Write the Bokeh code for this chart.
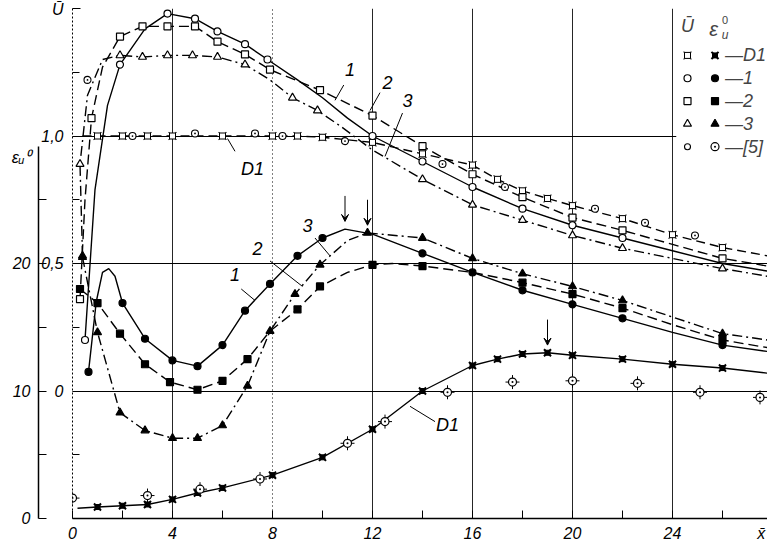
from bokeh.plotting import figure
from bokeh.models import Range1d, LinearAxis, FixedTicker, Grid, Label, Arrow, VeeHead
from bokeh.embed import file_html
from bokeh.resources import INLINE

FONT = "Liberation Sans"

# ---------------- data: mean velocity U (inner left scale) ----------------
ud1_line_x = [0.4, 1, 2, 3, 4, 6, 8, 9, 10, 12, 14, 16, 17, 18, 19, 20, 22, 24, 26, 27.8]
ud1_line_y = [1.0, 1.0, 1.0, 1.0, 1.0, 1.0, 1.0, 1.0, 0.995, 0.975, 0.93, 0.886, 0.83, 0.785, 0.755, 0.727, 0.676, 0.613, 0.5625, 0.53]
ud1_x = [1, 2, 3, 4, 6, 8, 9, 10, 12, 14, 16, 17, 18, 19, 20, 22, 24, 26]
ud1_y = [1.0, 1.0, 1.0, 1.0, 1.0, 1.0, 1.0, 0.995, 0.975, 0.93, 0.886, 0.83, 0.785, 0.755, 0.727, 0.676, 0.613, 0.5625]

u1_line_x = [0.5, 0.9, 1.4, 1.9, 2.9, 3.8, 4.9, 5.8, 6.9, 7.8, 9.0, 10.0, 11.0, 12.0, 14.0, 16.0, 18.0, 20.0, 22.0, 24.0, 26.0, 27.8]
u1_line_y = [0.20, 0.79, 1.12, 1.28, 1.42, 1.48, 1.46, 1.41, 1.36, 1.30, 1.22, 1.15, 1.07, 1.00, 0.90, 0.80, 0.715, 0.65, 0.60, 0.55, 0.50, 0.47]
u1_x = [0.5, 1.9, 3.8, 4.9, 5.8, 6.9, 7.8, 12.0, 14.0, 16.0, 18.0, 20.0, 22.0]
u1_y = [0.20, 1.28, 1.48, 1.46, 1.41, 1.36, 1.30, 1.00, 0.90, 0.80, 0.715, 0.65, 0.60]

u2_line_x = [0.3, 0.5, 0.76, 1.2, 1.9, 2.8, 3.8, 4.9, 5.8, 6.9, 7.9, 9.9, 12.0, 14.0, 16.0, 18.0, 20.0, 22.0, 24.0, 26.0, 27.8]
u2_line_y = [0.36, 0.75, 1.07, 1.27, 1.39, 1.43, 1.43, 1.43, 1.37, 1.32, 1.26, 1.18, 1.08, 0.96, 0.85, 0.76, 0.68, 0.63, 0.575, 0.52, 0.49]
u2_x = [0.3, 0.76, 1.9, 2.8, 3.8, 4.9, 5.8, 6.9, 7.9, 9.9, 12.0, 14.0, 16.0, 18.0, 20.0, 22.0, 26.0]
u2_y = [0.36, 1.07, 1.39, 1.43, 1.43, 1.43, 1.37, 1.32, 1.26, 1.18, 1.08, 0.96, 0.85, 0.76, 0.68, 0.63, 0.52]

u3_line_x = [0.4, 0.3, 0.6, 1.2, 1.9, 2.8, 3.8, 4.8, 5.8, 6.9, 7.9, 8.8, 9.8, 10.7, 12.0, 14.0, 16.0, 18.0, 20.0, 22.0, 24.0, 26.0, 27.8]
u3_line_y = [0.53, 0.89, 1.16, 1.30, 1.316, 1.31, 1.316, 1.316, 1.31, 1.28, 1.22, 1.15, 1.10, 1.04, 0.945, 0.83, 0.73, 0.67, 0.61, 0.56, 0.52, 0.48, 0.45]
u3_x = [0.4, 0.3, 1.9, 2.8, 3.8, 4.8, 5.8, 6.9, 8.8, 9.8, 14.0, 16.0, 18.0, 20.0, 22.0, 26.0]
u3_y = [0.53, 0.89, 1.316, 1.31, 1.316, 1.316, 1.31, 1.28, 1.15, 1.10, 0.83, 0.73, 0.67, 0.61, 0.56, 0.48]

u5_x = [0.6, 2.4, 4.9, 7.3, 8.4, 10.9, 14.8, 17.3, 20.9, 22.9, 24.9]
u5_y = [1.22, 1.0, 1.01, 1.01, 1.0, 0.98, 0.89, 0.80, 0.715, 0.66, 0.61]

# ---------------- data: eps_u^0 (outer left scale) ----------------
ed1_line_x = [0.2, 1, 2, 3, 4, 5, 6, 8, 10, 12, 14, 16, 17, 18, 19, 20, 22, 24, 26, 27.8]
ed1_line_y = [0.8, 0.9, 1.0, 1.1, 1.5, 2.0, 2.4, 3.4, 4.8, 7.0, 10.0, 12.0, 12.5, 12.9, 13.0, 12.8, 12.5, 12.1, 11.8, 11.4]
ed1_x = [1, 2, 3, 4, 5, 6, 8, 10, 12, 14, 16, 17, 18, 19, 20, 22, 24, 26]
ed1_y = [0.9, 1.0, 1.1, 1.5, 2.0, 2.4, 3.4, 4.8, 7.0, 10.0, 12.0, 12.5, 12.9, 13.0, 12.8, 12.5, 12.1, 11.8]

e1_line_x = [0.64, 0.95, 1.2, 1.45, 1.7, 2.0, 2.9, 4.0, 5.0, 6.0, 6.9, 7.9, 9.0, 10.0, 10.9, 12.0, 14.0, 16.0, 18.0, 20.0, 22.0, 24.0, 26.0, 27.8]
e1_line_y = [11.5, 17.0, 19.3, 19.6, 19.0, 16.9, 14.1, 12.4, 11.95, 13.6, 16.3, 18.4, 20.6, 22.0, 22.7, 22.3, 20.8, 19.3, 17.9, 16.8, 15.7, 14.6, 13.6, 13.1]
e1_x = [0.64, 2.0, 2.9, 4.0, 5.0, 6.0, 6.9, 7.9, 9.0, 10.0, 14.0, 16.0, 18.0, 20.0, 22.0, 26.0]
e1_y = [11.5, 16.9, 14.1, 12.4, 11.95, 13.6, 16.3, 18.4, 20.6, 22.0, 20.8, 19.3, 17.9, 16.8, 15.7, 13.6]

e2_line_x = [0.3, 1.0, 1.9, 2.9, 3.9, 5.0, 6.0, 7.0, 7.9, 9.0, 9.9, 11.0, 12.0, 12.8, 14.0, 16.0, 18.0, 20.0, 22.0, 24.0, 26.0, 27.8]
e2_line_y = [18.0, 16.9, 14.5, 12.1, 10.7, 10.1, 10.8, 12.5, 14.7, 16.4, 18.2, 19.3, 19.9, 20.0, 19.8, 19.3, 18.5, 17.6, 16.5, 15.2, 14.0, 13.4]
e2_x = [0.3, 1.0, 1.9, 2.9, 3.9, 5.0, 6.0, 7.0, 9.0, 9.9, 12.0, 14.0, 18.0, 20.0, 22.0, 26.0]
e2_y = [18.0, 16.9, 14.5, 12.1, 10.7, 10.1, 10.8, 12.5, 16.4, 18.2, 19.9, 19.8, 18.5, 17.6, 16.5, 14.0]

e3_line_x = [0.4, 1.0, 1.9, 2.9, 4.0, 5.0, 6.0, 7.0, 7.9, 8.9, 9.9, 11.0, 11.8, 14.0, 16.0, 18.0, 20.0, 22.0, 24.0, 26.0, 27.8]
e3_line_y = [20.5, 14.6, 8.3, 6.9, 6.3, 6.3, 7.3, 10.4, 14.7, 17.6, 19.9, 21.8, 22.4, 22.0, 20.4, 19.2, 18.2, 17.1, 15.8, 14.5, 14.0]
e3_x = [0.4, 1.0, 1.9, 2.9, 4.0, 5.0, 6.0, 7.0, 7.9, 8.9, 9.9, 11.8, 14.0, 16.0, 18.0, 20.0, 22.0, 26.0]
e3_y = [20.5, 14.6, 8.3, 6.9, 6.3, 6.3, 7.3, 10.4, 14.7, 17.6, 19.9, 22.4, 22.0, 20.4, 19.2, 18.2, 17.1, 14.5]

e5_x = [0, 3, 5.1, 7.5, 11, 12.5, 15, 17.6, 20, 22.6, 25.1, 27.5]
e5_y = [1.6, 1.8, 2.3, 3.1, 5.9, 7.6, 9.9, 10.7, 10.8, 10.6, 9.9, 9.5]

# ticks and tick texts
x_labelled = [0, 4, 8, 12, 16, 20, 24, 27.55]
x_tickmarks = [0, 2, 4, 6, 8, 10, 12, 14, 16, 18, 20, 22, 24, 26]
x_labels = {27.55: "x\u0304"}
u_major = [0, 0.5, 1.0, 1.5]
u_minor = [-0.25, 0.25, 0.75, 1.25]
u_labels = {0: "0", 0.5: "0,5", 1: "1,0", 1.5: "Ū"}
e_labelled = [0, 10, 20, 28.3]
e_tickmarks = [0, 5, 10, 15, 20, 25]
e_labels = {0: "0", 10: "10", 20: "20", 28.3: "ε\u1d64\u2070"}

legend_names = ["D1", "1", "2", "3", "[5]"]
legend_kinds = ["D1", "circle", "square", "triangle", "ref"]

# ---------------- figure ----------------
p = figure(width=767, height=544, x_range=Range1d(0, 27.8), y_range=Range1d(-0.5, 1.5),
           output_backend="svg", toolbar_location=None,
           min_border_left=72, min_border_right=0, min_border_top=8, min_border_bottom=24)
p.outline_line_color = None
p.xgrid.visible = False
p.ygrid.visible = False
p.extra_y_ranges = {"eps": Range1d(0, 40)}

def style_axis(ax):
    ax.major_label_text_font = FONT
    ax.major_label_text_font_style = "italic"
    ax.major_label_text_font_size = "16px"
    ax.major_label_text_color = "black"
    ax.axis_line_color = "black"
    ax.major_tick_line_color = "black"
    ax.minor_tick_line_color = "black"
    ax.major_tick_out = 0
    ax.minor_tick_out = 0
    ax.major_tick_in = 8
    ax.minor_tick_in = 7

xa = p.xaxis[0]
xa.ticker = FixedTicker(ticks=x_labelled, minor_ticks=x_tickmarks)
xa.major_label_overrides = x_labels
style_axis(xa)
xa.major_tick_in = 0
xa.minor_tick_in = 8
xa.axis_line_width = 1.5
xa.major_label_standoff = 6

ua = p.yaxis[0]
ua.ticker = FixedTicker(ticks=u_major, minor_ticks=u_minor)
ua.major_label_overrides = u_labels
style_axis(ua)
ua.axis_line_dash = "2 2"
ua.major_label_standoff = 9

ea = LinearAxis(y_range_name="eps", ticker=FixedTicker(ticks=e_labelled, minor_ticks=e_tickmarks),
                major_label_overrides=e_labels, bounds=(0, 29.2))
style_axis(ea)
ea.major_tick_in = 0
ea.minor_tick_in = 8
ea.axis_line_width = 1.5
ea.major_label_standoff = 8
p.add_layout(ea, "left")

# grid lines
p.add_layout(Grid(dimension=0, ticker=FixedTicker(ticks=[4, 12, 16, 20, 24]),
                  grid_line_color="black", grid_line_width=1, grid_line_alpha=0.85))
p.add_layout(Grid(dimension=0, ticker=FixedTicker(ticks=[8]),
                  grid_line_color="black", grid_line_width=1, grid_line_dash="1 3"))
p.add_layout(Grid(dimension=1, ticker=FixedTicker(ticks=[0, 0.5, 1.0]),
                  grid_line_color="black", grid_line_width=1.2))
p.add_layout(Grid(dimension=1, ticker=FixedTicker(ticks=[1.5]),
                  grid_line_color="black", grid_line_width=1, grid_line_dash="6 3"))

# legend background (covers grid lines)
p.quad(left=24.15, right=27.8, bottom=0.9, top=1.47, fill_color="white", line_color=None)

LW = 1.4

def curve(xs, ys, dash, rng="default"):
    p.line(xs, ys, line_color="black", line_width=LW, line_dash=dash, y_range_name=rng)

def marks(kind, filled, xs, ys, rng="default"):
    fc = "black" if filled else "white"
    if kind == "D1":
        p.scatter(xs, ys, marker="x", size=10 if filled else 11, line_width=2 if filled else 1.1,
                  line_color="black", y_range_name=rng)
        p.scatter(xs, ys, marker="square", size=5 if filled else 6, line_color="black",
                  fill_color=fc, y_range_name=rng)
    elif kind == "ref":
        if filled:
            p.scatter(xs, ys, marker="cross", size=14, line_width=1, line_color="black", y_range_name=rng)
            p.scatter(xs, ys, marker="circle_dot", size=8, line_width=1.2, line_color="black",
                      fill_color="white", y_range_name=rng)
        else:
            p.scatter(xs, ys, marker="circle_dot", size=7, line_width=1.1, line_color="black",
                      fill_color="white", y_range_name=rng)
    else:
        size = {"circle": 7, "square": 7, "triangle": 8}[kind]
        p.scatter(xs, ys, marker=kind, size=size, line_width=1.2, line_color="black",
                  fill_color=fc, y_range_name=rng)

# U curves
curve(ud1_line_x, ud1_line_y, "9 5")
curve(u1_line_x, u1_line_y, "solid")
curve(u2_line_x, u2_line_y, "10 5")
curve(u3_line_x, u3_line_y, "10 4 2 4")
marks("D1", False, ud1_x, ud1_y)
marks("circle", False, u1_x, u1_y)
marks("square", False, u2_x, u2_y)
marks("triangle", False, u3_x, u3_y)
marks("ref", False, u5_x, u5_y)

# eps curves
curve(ed1_line_x, ed1_line_y, "solid", "eps")
curve(e1_line_x, e1_line_y, "solid", "eps")
curve(e2_line_x, e2_line_y, "10 5", "eps")
curve(e3_line_x, e3_line_y, "10 4 2 4", "eps")
marks("D1", True, ed1_x, ed1_y, "eps")
marks("circle", True, e1_x, e1_y, "eps")
marks("square", True, e2_x, e2_y, "eps")
marks("triangle", True, e3_x, e3_y, "eps")
marks("ref", True, e5_x, e5_y, "eps")

# arrows marking the maxima
def peak(xs, ys):
    i = max(range(len(ys)), key=lambda k: ys[k])
    return xs[i], ys[i]

for xs, ys in [(e1_line_x, e1_line_y), (e3_line_x, e3_line_y), (ed1_line_x, ed1_line_y)]:
    px, py = peak(xs, ys)
    p.add_layout(Arrow(end=VeeHead(size=7, line_color="black", fill_color="black"),
                       x_start=px, y_start=py + 2.6, x_end=px, y_end=py + 0.6,
                       y_range_name="eps", line_color="black", line_width=1))

# curve labels and leader lines
def label(x, y, text, rng="default", size="18px"):
    p.add_layout(Label(x=x, y=y, text=text, y_range_name=rng, text_font=FONT,
                       text_font_style="italic", text_font_size=size, text_align="center",
                       text_baseline="middle", text_color="black"))

u_lab = [(11.1, 1.26, "1"), (12.6, 1.21, "2"), (13.4, 1.14, "3"), (7.2, 0.87, "D1")]
for x, y, t in u_lab:
    label(x, y, t)
p.segment(x0=[10.85, 12.3, 13.2, 6.5], y0=[1.2, 1.17, 1.09, 0.94],
          x1=[10.5, 11.9, 12.5, 6.2], y1=[1.14, 1.10, 0.92, 0.99], line_color="black", line_width=1)

e_lab = [(6.5, 19.1, "1"), (7.4, 21.2, "2"), (9.4, 23.0, "3"), (15.0, 7.3, "D1")]
for x, y, t in e_lab:
    label(x, y, t, "eps")
p.segment(x0=[6.75, 7.9, 9.7, 14.5], y0=[18.0, 20.2, 22.0, 7.6],
          x1=[7.3, 9.2, 10.3, 13.5], y1=[17.1, 18.2, 20.6, 8.8],
          line_color="black", line_width=1, y_range_name="eps")

# legend (two symbol columns: U open, eps filled)
lx_u, lx_e, lx_t = 24.6, 25.7, 26.1
row_top, row_step = 1.316, 0.0895
p.add_layout(Label(x=lx_u, y=1.43, text="Ū", text_font=FONT, text_font_style="italic",
                   text_font_size="18px", text_align="center", text_baseline="middle"))
p.add_layout(Label(x=lx_e - 0.05, y=1.42, text="ε", text_font=FONT, text_font_style="italic",
                   text_font_size="20px", text_align="center", text_baseline="middle"))
p.add_layout(Label(x=lx_e + 0.4, y=1.455, text="0", text_font=FONT, text_font_size="11px",
                   text_align="center", text_baseline="middle"))
p.add_layout(Label(x=lx_e + 0.4, y=1.395, text="u", text_font=FONT, text_font_style="italic",
                   text_font_size="12px", text_align="center", text_baseline="middle"))
for i, (name, kind) in enumerate(zip(legend_names, legend_kinds)):
    y = row_top - i * row_step
    if kind == "ref":
        p.scatter([lx_u], [y], marker="circle", size=6, line_width=1.1, line_color="black",
                  fill_color="white")
        p.scatter([lx_e], [y], marker="circle_dot", size=8, line_width=1.2, line_color="black",
                  fill_color="white")
    else:
        marks(kind, False, [lx_u], [y])
        marks(kind, True, [lx_e], [y])
    p.add_layout(Label(x=lx_t, y=y, text="\u2014" + name, text_font=FONT, text_font_style="italic",
                       text_font_size="18px", text_align="left", text_baseline="middle"))

open("out.html", "w").write(file_html(p, INLINE))
